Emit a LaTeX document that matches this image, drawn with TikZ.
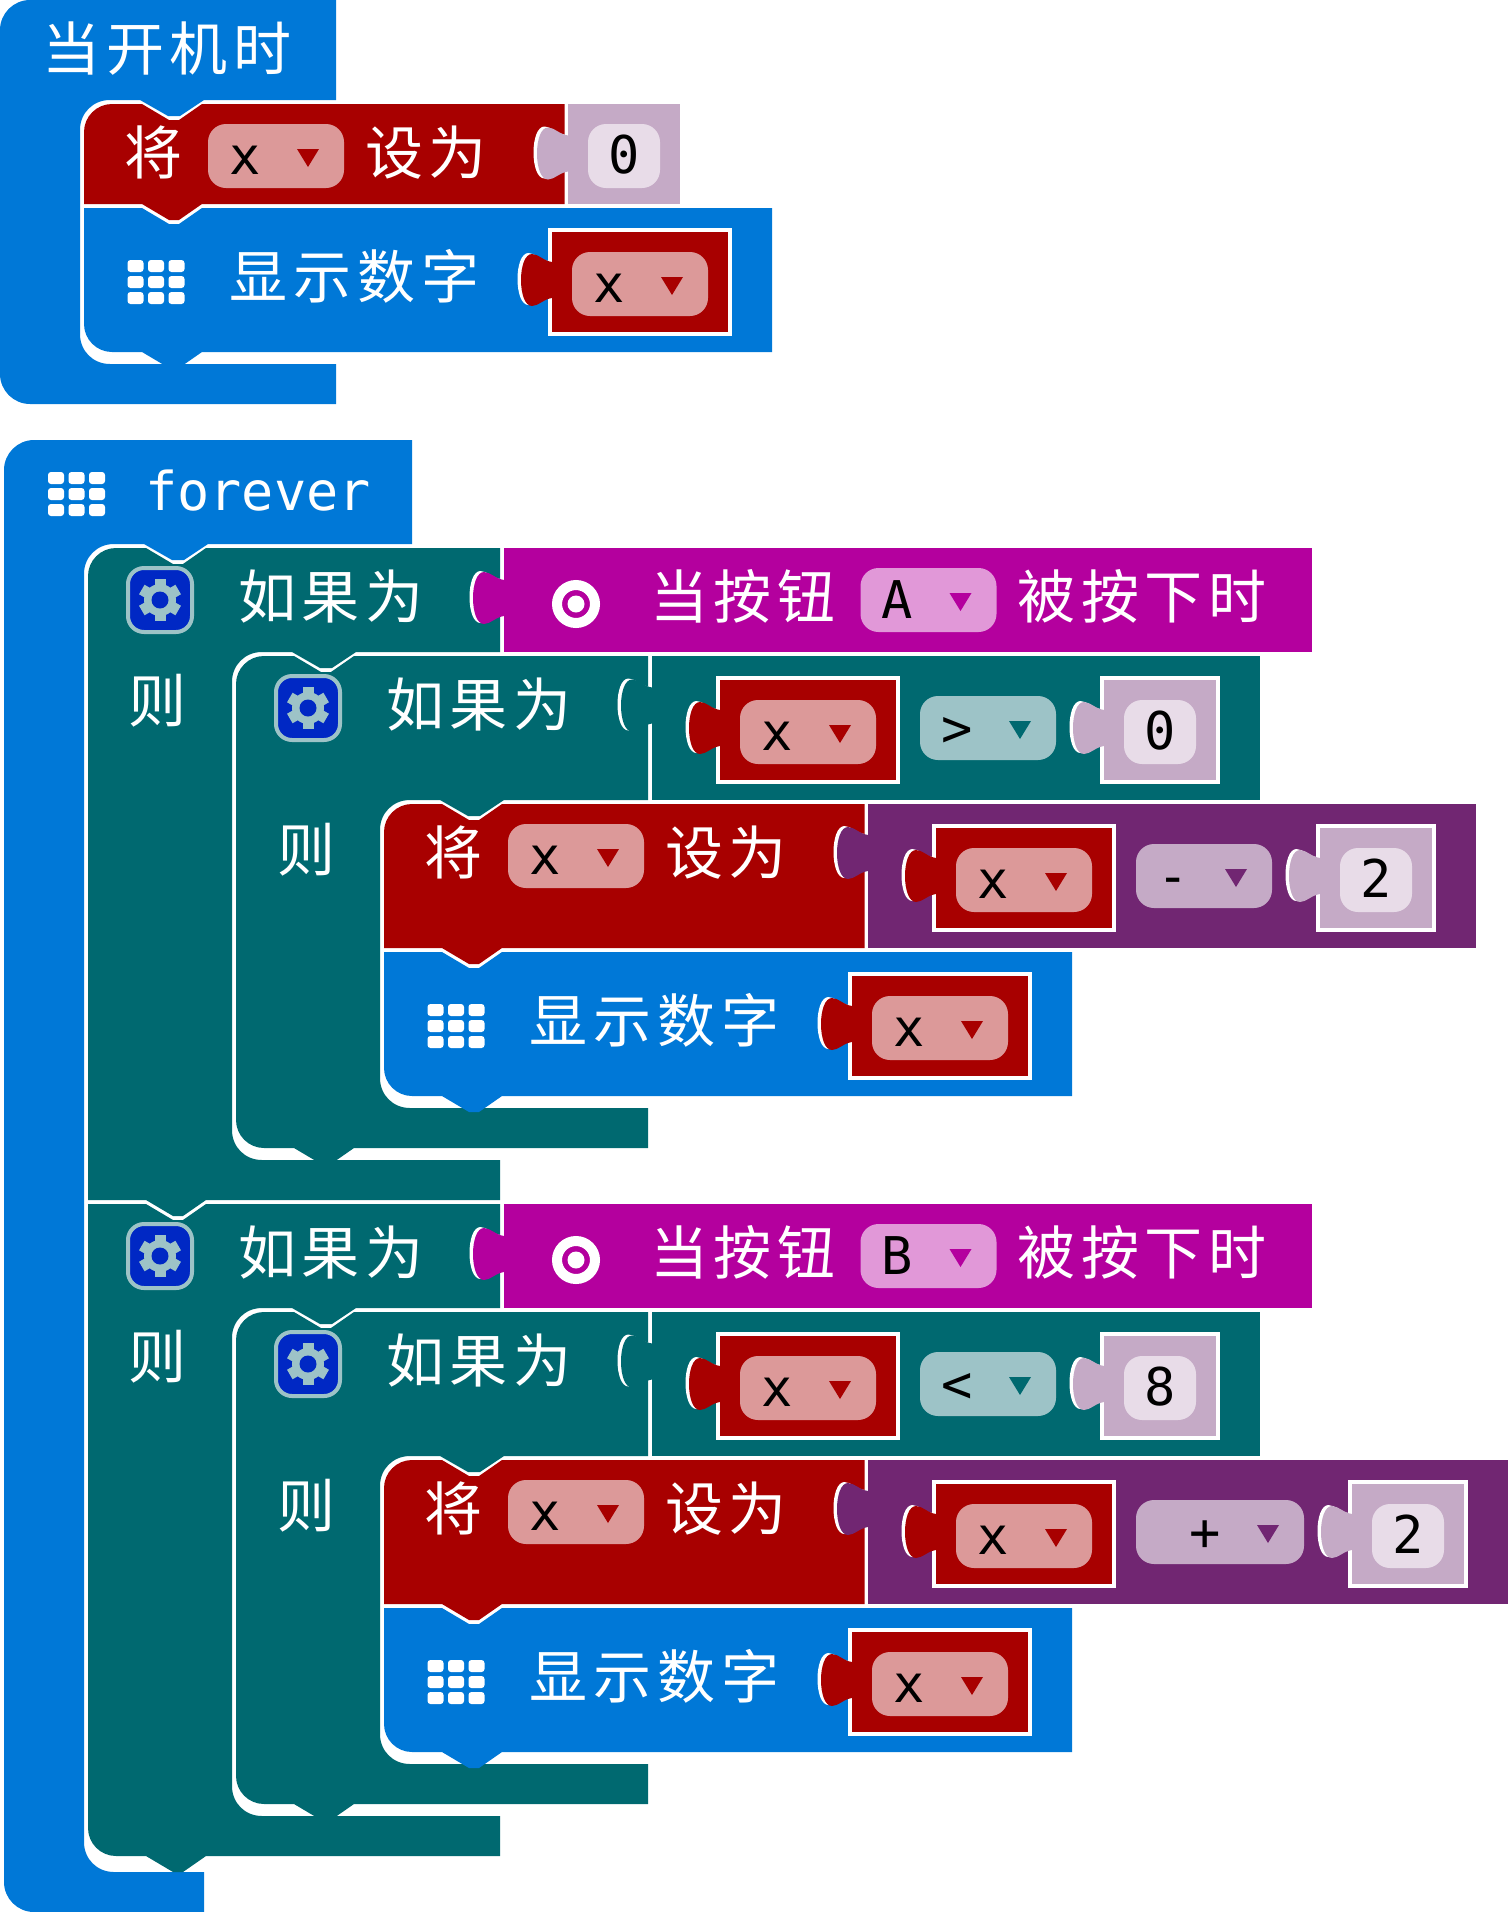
\documentclass[tikz,border=0pt]{standalone}
\usepackage{fontspec}
\setmonofont{DejaVu Sans Mono}
\newfontfamily\cjk[LetterSpace=10]{Noto Sans CJK SC}
\definecolor{loopBlue}{HTML}{0078D7}
\definecolor{logicTeal}{HTML}{006970}
\definecolor{varRed}{HTML}{A80000}
\definecolor{mathPurple}{HTML}{712672}
\definecolor{inputPink}{HTML}{B4009E}
\definecolor{redField}{HTML}{DC9999}
\definecolor{tealField}{HTML}{9DC3C7}
\definecolor{pinkField}{HTML}{E198D8}
\definecolor{numberBack}{HTML}{C5AAC6}
\definecolor{numberField}{HTML}{E8DCE8}
\definecolor{gearBack}{HTML}{0028C4}
\tikzstyle{pixels} = [x = 1pt, y = -1pt]
\tikzstyle{cjkText} = [anchor = base, inner sep = 0pt, text = white, font = \cjk\fontsize{58}{58}\selectfont]
\tikzstyle{fieldText} = [anchor = base, inner sep = 0pt, text = black, font = \ttfamily\fontsize{52}{52}\selectfont]
\tikzstyle{foreverText} = [anchor = base, inner sep = 0pt, text = white, font = \ttfamily\fontsize{53.5}{54}\selectfont]
\tikzstyle{fieldShape} = [rounded corners = 18pt]
\tikzstyle{gearPlate} = [draw = tealField, fill = gearBack, line width = 4pt, rounded corners = 16pt]
\newcommand{\notchTop}[2]{-- (#1+58,#2) -- (#1+85,#2+16) -- (#1+95,#2+16) -- (#1+118,#2)}
\newcommand{\bumpDown}[2]{-- (#1+118,#2) -- (#1+95,#2+16) -- (#1+85,#2+16) -- (#1+58,#2)}
\newcommand{\cornerTop}[3]{(#1,#2+#3) .. controls (#1,#2+.45*#3) and (#1+.45*#3,#2) .. (#1+#3,#2)}
\newcommand{\cornerBottom}[3]{-- (#1+#3,#2) .. controls (#1+.45*#3,#2) and (#1,#2-.45*#3) .. (#1,#2-#3)}
\newcommand{\holeSide}[5]{
  -- (#1,#2) -- (#3+124,#2) -- (#3+100,#2+16) -- (#3+88,#2+16) -- (#3+60,#2) -- (#3+30,#2)
  .. controls (#3+13,#2) and (#3,#2+13) .. (#3,#2+30)
  -- (#3,#4-30) .. controls (#3,#4-13) and (#3+13,#4) .. (#3+30,#4) -- (#5,#4)
}
\newcommand{\tabOutline}{(0,-18) .. controls (-8,-19) and (-14,-26) .. (-20,-26) .. controls (-27,-26) and (-31,-14) .. (-31,0) .. controls (-31,14) and (-27,26) .. (-20,26) .. controls (-14,26) and (-8,19) .. (0,18) -- cycle}
\newcommand{\puzzleTab}[3]{
  \fill [white, shift={(#1-3.5,#2-1)}] \tabOutline;
  \fill [#3, shift={(#1,#2)}] \tabOutline;
}
\newcommand{\blockText}[4]{\node (#1) [cjkText] at (#2,#3+21) {#4};}
\newcommand{\dropField}[7]{
  \fill [fieldShape, #6] (#2,#3) rectangle +(#4,64);
  \node (#1) [fieldText] at (#2+#4-99,#3+50) {#5};
  \fill [#7] (#2+#4-47,#3+25) -- (#2+#4-25,#3+25) -- (#2+#4-36,#3+43) -- cycle;
}
\newcommand{\lightField}[4]{
  \fill [fieldShape, numberField] (#2,#3) rectangle +(72,64);
  \node (#1) [fieldText] at (#2+36,#3+49) {#4};
}
\newcommand{\varBlock}[3]{
  \fill [white] (#2,#3) rectangle +(184,108);
  \puzzleTab{#2+4}{#3+52}{varRed}
  \fill [varRed] (#2+4,#3+4) rectangle +(176,100);
  \dropField{#1}{#2+24}{#3+24}{136}{x}{redField}{varRed}
}
\newcommand{\numberBlock}[4]{
  \fill [white] (#2,#3) rectangle +(120,108);
  \puzzleTab{#2+4}{#3+52}{numberBack}
  \fill [numberBack] (#2+4,#3+4) rectangle +(112,100);
  \lightField{#1}{#2+24}{#3+24}{#4}
}
\newcommand{\gridIcon}[2]{
  \foreach \column in {0,1,2} {
    \foreach \row in {0,1,2} {
      \fill [white, rounded corners = 3pt] (#1+\column*20.5,#2+\row*16) rectangle +(16,12);
    }
  }
}
\newcommand{\gearIcon}[2]{
  \filldraw [gearPlate] (#1-32,#2-32) rectangle +(64,64);
  \foreach \toothAngle in {0,60,...,300} {
    \fill [tealField, shift={(#1,#2)}, rotate=\toothAngle] (-5.5,-21) rectangle (5.5,-10);
  }
  \fill [tealField] (#1,#2) circle [radius=16];
  \fill [gearBack] (#1,#2) circle [radius=8.5];
}
\newcommand{\targetIcon}[2]{
  \draw [white, line width = 10pt] (#1,#2) circle [radius=19];
  \fill [white] (#1,#2) circle [radius=8.5];
}
\newcommand{\setBlock}[6]{
  \fill [varRed] \cornerTop{#2}{#3}{#4} \notchTop{#2}{#3} -- (#2+480.5,#3) -- (#2+480.5,#3+#5) \bumpDown{#2}{#3+#5} -- (#2,#3+#5) -- cycle;
  \blockText{#1-set}{#2+69}{#3+49}{将}
  \dropField{#1-setvar}{#2+124}{#3+20}{136}{x}{redField}{varRed}
  \blockText{#1-to}{#2+342}{#3+49}{设为}
}
\newcommand{\showBlock}[3]{
  \fill [loopBlue] (#2,#3) \notchTop{#2}{#3} -- (#2+688,#3) -- (#2+688,#3+144) \bumpDown{#2}{#3+144} \cornerBottom{#2}{#3+144}{28} -- cycle;
  \gridIcon{#2+43.5}{#3+52}
  \blockText{#1-show}{#2+270.5}{#3+69}{显示数字}
  \varBlock{#1-showvar}{#2+464}{#3+20}
}
\newcommand{\ifContent}[9]{
  \fill [logicTeal] \cornerTop{88}{548}{#8} \notchTop{88}{548} -- (500,548) \holeSide{500}{652}{232}{1160}{500} -- (500,1200) \bumpDown{88}{1200} \cornerBottom{88}{1200}{#9} -- cycle;
  \gearIcon{160}{600}
  \blockText{#1-if}{331}{597}{如果为}
  \blockText{#1-then}{157}{701}{则}
  \fill [inputPink] (504,548) rectangle (1312,652);
  \puzzleTab{504}{598}{inputPink}
  \targetIcon{576}{604}
  \blockText{#1-when}{743}{597}{当按钮}
  \dropField{#1-button}{860.5}{568}{136}{#2}{pinkField}{inputPink}
  \blockText{#1-pressed}{1142}{597}{被按下时}
  \fill [logicTeal] \cornerTop{236}{656}{28} \notchTop{236}{656} -- (648,656) \holeSide{648}{800}{380}{1108}{648} -- (648,1148) \bumpDown{236}{1148} \cornerBottom{236}{1148}{28} -- cycle;
  \gearIcon{308}{708}
  \blockText{#1-ifin}{479}{705}{如果为}
  \blockText{#1-thenin}{306}{850}{则}
  \fill [logicTeal] (652,656) rectangle (1260,800);
  \puzzleTab{652}{705.5}{logicTeal}
  \varBlock{#1-cmpvar}{716}{676}
  \dropField{#1-cmp}{920}{696}{136}{#3}{tealField}{logicTeal}
  \numberBlock{#1-cmpval}{1100}{676}{#4}
  \setBlock{#1}{384}{804}{28}{144}{}
  \fill [mathPurple] (868,804) rectangle (1476+#6,948);
  \puzzleTab{868}{853}{mathPurple}
  \varBlock{#1-mathvar}{932}{824}
  \dropField{#1-math}{1136}{844}{136+#6}{#5}{numberBack}{mathPurple}
  \numberBlock{#1-mathval}{1316+#6}{824}{#7}
  \showBlock{#1}{384}{952}
}
\begin{document}
\begin{tikzpicture}[pixels]
  \useasboundingbox (0,0) rectangle (1508,1912);

  \fill [loopBlue] \cornerTop{0}{0}{30} -- (336,0) \holeSide{336}{100}{80}{364}{336} -- (336,404) \cornerBottom{0}{404}{30} -- cycle;
  \blockText{start}{167}{49}{当开机时}
  \setBlock{first}{84}{104}{28}{100}{}
  \fill [numberBack] (568,104) rectangle (680,204);
  \puzzleTab{568}{153.5}{numberBack}
  \lightField{first-val}{588}{124}{0}
  \showBlock{first}{84}{208}

  \fill [loopBlue] \cornerTop{4}{440}{30} -- (412,440) \holeSide{412}{544}{84}{1872}{204} -- (204,1912) \cornerBottom{4}{1912}{30} -- cycle;
  \gridIcon{48}{472}
  \node (forever) [foreverText] at (258,510) {forever};

  \ifContent{down}{A}{>}{0}{-}{0}{2}{28}{0}
  \begin{scope}[shift={(0,656)}]
    \ifContent{up}{B}{<}{8}{+}{32}{2}{0}{28}
  \end{scope}
\end{tikzpicture}
\end{document}
